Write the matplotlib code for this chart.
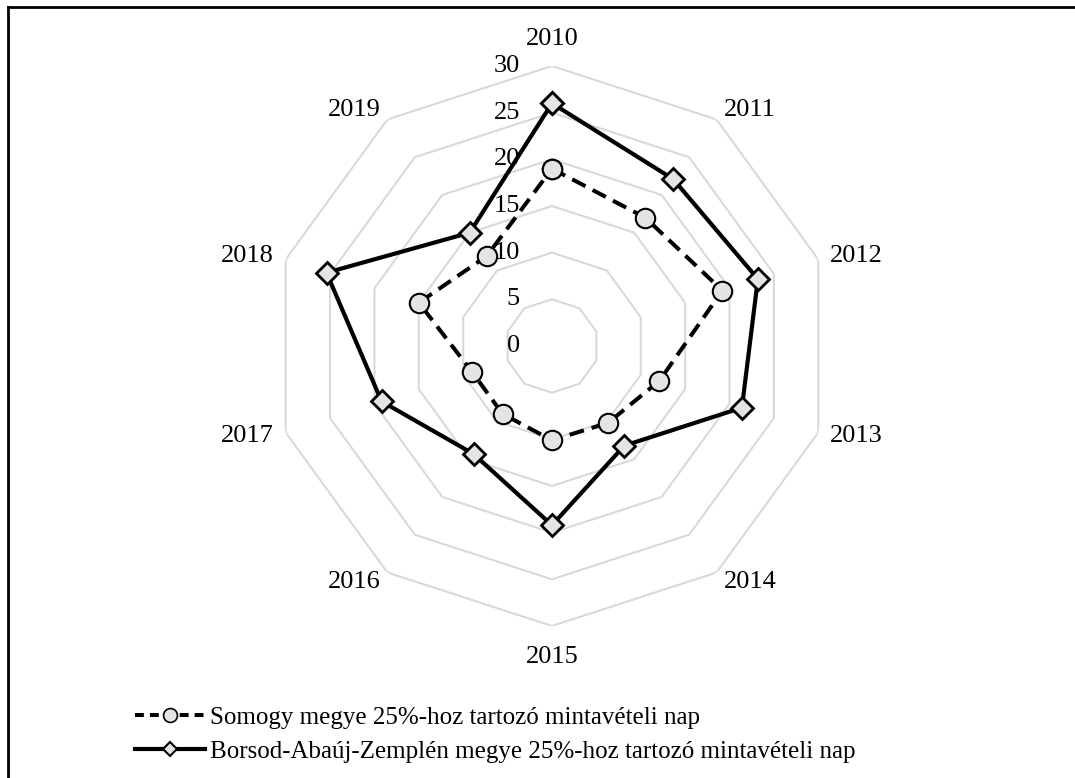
"""Radar chart: 25% sampling day by year."""
import matplotlib
matplotlib.use("Agg")
import matplotlib.pyplot as plt
from matplotlib.lines import Line2D
import numpy as np

years = ["2010", "2011", "2012", "2013", "2014",
         "2015", "2016", "2017", "2018", "2019"]
somogy = [19.0, 17.0, 19.2, 12.1, 10.2, 10.1, 9.0, 9.0, 15.0, 11.9]
borsod = [26.0, 22.1, 23.2, 21.4, 13.2, 19.2, 14.3, 19.2, 25.4, 15.0]
rings = [5, 10, 15, 20, 25, 30]
ring_labels = ["0", "5", "10", "15", "20", "25", "30"]
series_names = ["Somogy megye 25%-hoz tartozó mintavételi nap",
                "Borsod-Abaúj-Zemplén megye 25%-hoz tartozó mintavételi nap"]

plt.rcParams.update({'font.family': ['Liberation Serif', 'DejaVu Serif']})

fig = plt.figure(figsize=(10.75, 7.78), dpi=100)
ax = fig.add_axes([0.2530, 0.1954, 0.5209, 0.7198], projection='polar')
ax.set_theta_zero_location('N')
ax.set_theta_direction(-1)
ax.set_ylim(0, 30)
ax.grid(False)
ax.spines['polar'].set_visible(False)
ax.set_xticks([])
ax.set_yticks([])
ax.patch.set_alpha(0)

angles = np.arange(len(years)) * 2 * np.pi / len(years)
closed = np.append(angles, angles[0])

# Grid: decagons
for r in rings:
    ax.plot(closed, [r] * len(closed), color="#d9d9d9", lw=1.5, zorder=1)

# Radial tick labels
for i, lab in enumerate(ring_labels):
    ax.annotate(lab, xy=(0, i * 5), xytext=(-32, 0),
                textcoords='offset pixels', ha='right', va='center',
                fontsize=19, zorder=5)

# Category labels
for ang, lab in zip(angles, years):
    s, c = np.sin(ang), np.cos(ang)
    ha = 'left' if s > 0.1 else ('right' if s < -0.1 else 'center')
    if c > 0.9:
        va, rr = 'bottom', 31.7
    elif c < -0.9:
        va, rr = 'top', 32.2
    else:
        va, rr = 'center', 31.3
    ax.text(ang, rr, lab, ha=ha, va=va, fontsize=19)

# Data
ax.plot(closed, np.append(somogy, somogy[0]), color="black", lw=2.9,
        linestyle=(0, (3.7, 2)), marker='o', markersize=14,
        markerfacecolor="#e4e4e4", markeredgecolor="black",
        markeredgewidth=1.5, zorder=3)
ax.plot(closed, np.append(borsod, borsod[0]), color="black", lw=3,
        marker='D', markersize=11, markerfacecolor="#e4e4e4",
        markeredgecolor="black", markeredgewidth=2, zorder=4)

# Legend
handles = [
    Line2D([], [], color="black", lw=2.9, linestyle=(0, (2.2, 1.5)),
           marker='o', markersize=10, markerfacecolor="#e4e4e4",
           markeredgecolor="black", markeredgewidth=1.2),
    Line2D([], [], color="black", lw=3, marker='D', markersize=7,
           markerfacecolor="#e4e4e4", markeredgecolor="black",
           markeredgewidth=1.5),
]
fig.legend(handles, series_names, loc='upper left',
           bbox_to_anchor=(0.1144, 0.108), frameon=False, fontsize=18,
           handlelength=2.8, handletextpad=0.2, labelspacing=0.45,
           borderpad=0)

# Frame (left and top edges only)
fig.add_artist(Line2D([8 / 1075, 8 / 1075], [0, 1 - 7 / 778],
                      transform=fig.transFigure, color="black", lw=2))
fig.add_artist(Line2D([8 / 1075, 1], [1 - 7 / 778, 1 - 7 / 778],
                      transform=fig.transFigure, color="black", lw=2))

fig.savefig("out.png", dpi=100)
